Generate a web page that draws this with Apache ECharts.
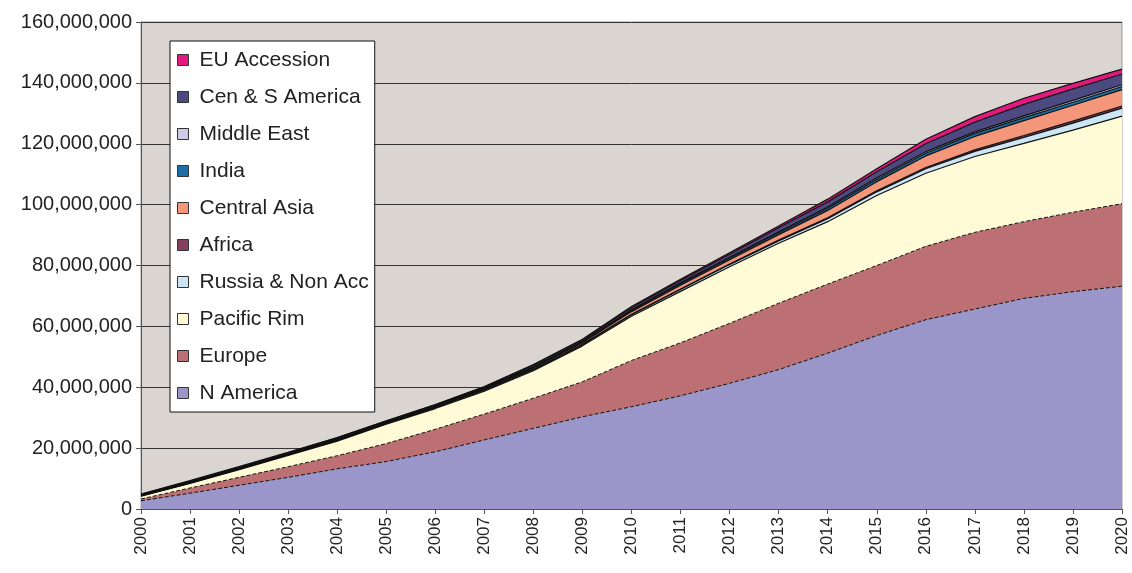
<!DOCTYPE html>
<html>
<head>
<meta charset="utf-8">
<script src="https://cdn.jsdelivr.net/npm/echarts@6/dist/echarts.min.js"></script>
<style>
  html, body { margin: 0; padding: 0; background: #fff; }
  #chart { width: 1132px; height: 573px; }
</style>
</head>
<body>
<div id="chart"></div>
<script>
// years on the x axis
var years = ["2000","2001","2002","2003","2004","2005","2006","2007","2008","2009","2010",
             "2011","2012","2013","2014","2015","2016","2017","2018","2019","2020"];

// values in millions (stacked bottom to top)
var nAmerica   = [2.7, 5.2, 7.8, 10.4, 13.2, 15.6, 18.8, 22.7, 26.5, 30.3, 33.6, 37.2, 41.3, 45.8, 51.2, 57.0, 62.2, 65.7, 69.2, 71.4, 73.2];
var europe     = [0.6, 1.7, 2.6, 3.5, 4.3, 5.9, 7.4, 8.5, 9.9, 11.5, 15.2, 17.4, 19.7, 21.8, 22.7, 23.0, 24.1, 25.2, 25.2, 26.1, 27.1];
var pacificRim = [0.9, 1.5, 2.5, 3.7, 4.8, 6.4, 6.8, 7.5, 9.0, 11.8, 14.5, 16.9, 18.6, 19.7, 20.5, 23.0, 24.0, 24.9, 25.7, 27.0, 28.8];
var russia     = [0.1, 0.15, 0.2, 0.2, 0.25, 0.25, 0.3, 0.3, 0.4, 0.4, 0.5, 0.6, 0.7, 0.8, 1.0, 1.2, 1.5, 1.7, 2.0, 2.3, 2.6];
var africa     = [0.05, 0.05, 0.05, 0.05, 0.05, 0.05, 0.1, 0.1, 0.1, 0.1, 0.15, 0.2, 0.2, 0.25, 0.3, 0.35, 0.4, 0.5, 0.6, 0.65, 0.7];
var centAsia   = [0.1, 0.15, 0.15, 0.15, 0.2, 0.2, 0.2, 0.3, 0.4, 0.5, 0.9, 1.2, 1.4, 1.8, 2.4, 3.0, 3.8, 4.4, 4.9, 5.2, 5.4];
var india      = [0.1, 0.15, 0.15, 0.15, 0.2, 0.15, 0.2, 0.2, 0.3, 0.3, 0.4, 0.5, 0.5, 0.6, 0.7, 0.8, 0.9, 1.0, 1.0, 1.0, 1.0];
var midEast    = [0.05, 0.1, 0.1, 0.1, 0.1, 0.1, 0.1, 0.1, 0.2, 0.2, 0.2, 0.3, 0.3, 0.35, 0.4, 0.45, 0.5, 0.5, 0.55, 0.6, 0.6];
var censAm     = [0.2, 0.2, 0.25, 0.25, 0.3, 0.25, 0.3, 0.35, 0.5, 0.5, 0.7, 0.8, 1.0, 1.3, 1.7, 2.0, 2.6, 3.2, 3.8, 3.8, 3.5];
var euAccess   = [0.1, 0.1, 0.1, 0.1, 0.1, 0.1, 0.1, 0.15, 0.2, 0.2, 0.35, 0.4, 0.5, 0.6, 0.9, 1.0, 1.5, 1.8, 2.0, 1.8, 1.6];

var seriesNames  = ["N America","Europe","Pacific Rim","Russia & Non Acc","Africa","Central Asia","India","Middle East","Cen & S America","EU Accession"];
var seriesData   = [nAmerica, europe, pacificRim, russia, africa, centAsia, india, midEast, censAm, euAccess];
var seriesColors = ["#9a96c9","#bd7074","#fffbd6","#cde6f5","#83405f","#f4967a","#1a6fa8","#cdc9e6","#4d4a82","#e3197f"];

var series = seriesNames.map(function (name, i) {
  return {
    name: name,
    type: "line",
    stack: "total",
    showSymbol: false,
    symbol: "none",
    smooth: false,
    data: seriesData[i].map(function (v) { return Math.round(v * 1e6); }),
    itemStyle: { color: seriesColors[i] },
    lineStyle: { color: "#111", width: i < 2 ? 1 : 1.2, type: i < 2 ? "dashed" : "solid" },
    areaStyle: { color: seriesColors[i], opacity: 1 },
    emphasis: { disabled: true }
  };
});

var chart = echarts.init(document.getElementById("chart"));
chart.setOption({
  animation: false,
  textStyle: { fontFamily: "Liberation Sans, Arial, sans-serif" },
  grid: {
    left: 141, right: 10, top: 22, bottom: 64,
    show: true, backgroundColor: "#dad5d1", borderColor: "#999", borderWidth: 1
  },
  legend: {
    data: seriesNames.slice().reverse(),
    orient: "vertical",
    left: 170, top: 41,
    padding: [8, 6, 8, 7],
    backgroundColor: "#fff",
    borderColor: "#111",
    borderWidth: 1,
    icon: "rect",
    itemWidth: 11, itemHeight: 11,
    itemGap: 15,
    itemStyle: { borderColor: "#333", borderWidth: 1 },
    textStyle: { fontSize: 21, color: "#222", lineHeight: 22, padding: [0, 0, 0, 6] },
    selectedMode: false
  },
  xAxis: {
    type: "category",
    data: years,
    boundaryGap: false,
    axisLine: { lineStyle: { color: "#555" } },
    axisTick: { show: true, alignWithLabel: true, length: 5, lineStyle: { color: "#555" } },
    axisLabel: { rotate: 90, fontSize: 17, color: "#222", margin: 8, interval: 0 },
    splitLine: { show: false }
  },
  yAxis: {
    type: "value",
    min: 0, max: 160000000, interval: 20000000,
    axisLine: { show: true, lineStyle: { color: "#555" } },
    axisTick: { show: true, length: 5, lineStyle: { color: "#555" } },
    axisLabel: {
      fontSize: 20, color: "#222", margin: 9,
      formatter: function (v) { return v.toLocaleString("en-US"); }
    },
    splitLine: { show: true, lineStyle: { color: "#333", width: 1 } }
  },
  series: series
});
</script>
</body>
</html>
